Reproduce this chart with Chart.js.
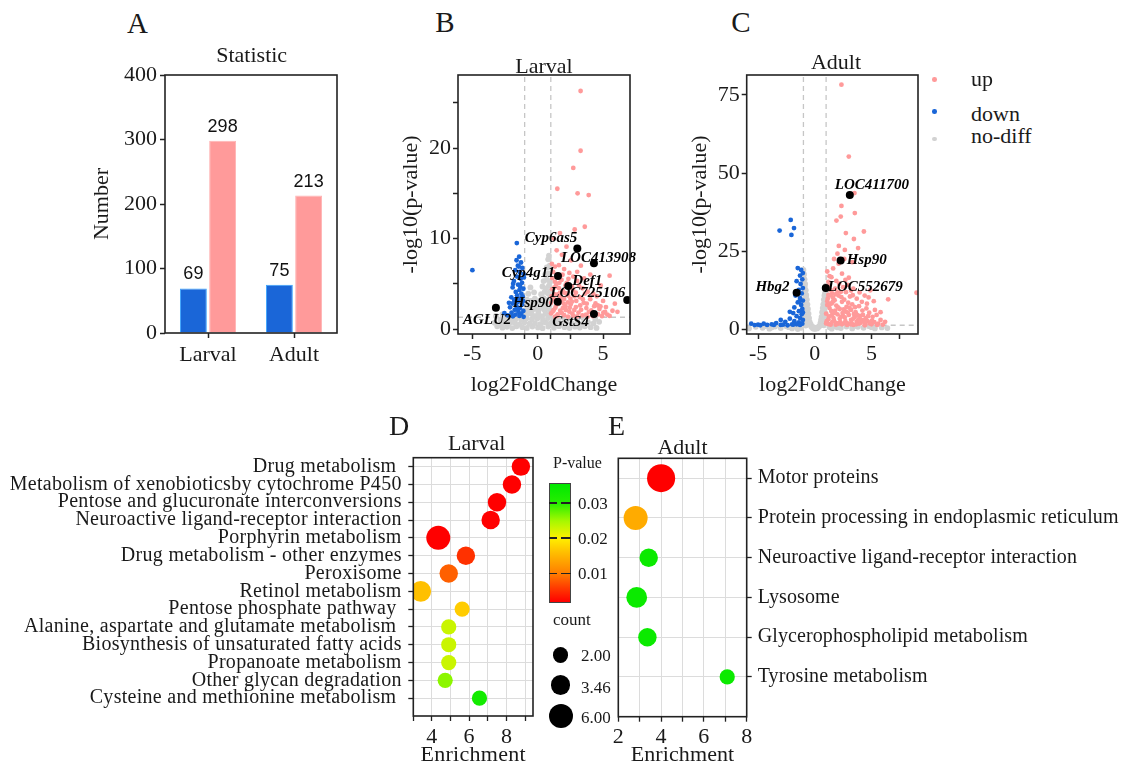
<!DOCTYPE html>
<html><head><meta charset="utf-8">
<script src="https://cdn.jsdelivr.net/npm/chart.js@4.4.1/dist/chart.umd.min.js"></script>
<style>
html,body{margin:0;padding:0;background:#fff;}
#wrap{position:relative;width:1128px;height:775px;overflow:hidden;font-family:'Liberation Serif','Times New Roman',serif;color:#1a1a1a;}
canvas{position:absolute;}
.t{position:absolute;white-space:pre;line-height:1;transform:translate(-50%,-50%);}
.l{position:absolute;white-space:pre;line-height:1;transform:translate(0,-50%);}
</style></head><body><div id="wrap"></div>
<script>
// ---------------- DATA ----------------
// A: statistic
const barCategories = ['Larval', 'Adult'];
const downCounts = [69, 75];
const upCounts = [298, 213];
const barTicks = [0, 100, 200, 300, 400];

// thresholds used in volcano plots
const fcThreshold = 1;
const pThreshold = 1.3;

// B: Larval volcano  [log2FoldChange, -log10(p)]
const larvalNoDiff = [
[-3.1,0.3],[-2.7,0.15],[-2.35,0.25],[-1.95,0.1],[-1.62,0.3],[-1.18,0.2],[-0.83,0.12],[-0.41,0.28],[0.02,0.18],[0.37,0.09],[0.81,0.27],[1.24,0.14],[1.63,0.31],[2.05,0.2],[2.44,0.11],[2.86,0.26],[3.22,0.17],[3.61,0.3],[4.05,0.2],[4.5,0.12],
[-3.3,0.7],[-2.9,0.55],[-2.55,0.72],[-2.18,0.6],[-1.77,0.68],[-1.41,0.52],[-1.02,0.75],[-0.63,0.58],[-0.21,0.66],[0.19,0.54],[0.58,0.73],[0.97,0.61],[1.38,0.7],[1.79,0.56],[2.21,0.77],[2.63,0.6],[3.04,0.69],[3.43,0.53],[3.85,0.74],[4.27,0.62],[4.7,0.8],
[-2.85,1.05],[-2.46,1.18],[-2.04,0.98],[-1.66,1.12],[-1.25,1.02],[-0.85,1.2],[-0.44,1.08],[-0.03,1.16],[0.4,1.0],[0.79,1.22],[1.2,1.06],[1.61,1.19],[2.04,1.03],[2.52,1.15],[3.01,1.09],[3.48,1.21],[4.4,1.1],
[-3.2,1.45],[-2.7,1.62],[-0.93,1.5],[-0.62,1.72],[-0.31,1.44],[0.03,1.66],[0.33,1.41],[0.62,1.7],[0.91,1.52],
[-0.96,2.05],[-0.71,2.3],[-0.46,1.98],[-0.18,2.22],[0.06,2.0],[0.29,2.35],[0.54,2.08],[0.78,2.28],[0.97,2.02],
[-0.88,2.68],[-0.6,2.55],[-0.33,2.82],[-0.08,2.6],[0.17,2.9],[0.42,2.62],[0.66,2.85],[0.89,2.58],
[-0.83,3.25],[-0.52,3.1],[-0.22,3.36],[0.18,3.15],[0.46,3.4],[0.71,3.2],[0.94,3.45],
[-0.72,3.9],[-0.28,4.05],[0.26,3.85],[0.53,4.1],[0.79,3.95],[0.99,4.2],
[-0.56,4.6],[0.36,4.7],[0.62,4.5],[0.86,4.8],
[0.45,5.3],[0.71,5.45],[0.94,5.2],[0.57,6.0],[0.82,6.15],[0.69,6.8],[0.91,7.0],[0.8,7.7],[0.86,8.1]
];
const larvalDown = [
[-5.0,6.5],[-1.6,9.5],
[-1.42,8.0],[-1.62,7.6],[-1.28,7.35],[-1.52,7.0],[-1.18,6.75],[-1.72,6.5],[-1.38,6.3],[-1.08,6.05],[-1.58,5.8],[-1.3,5.55],[-1.82,5.3],[-1.2,5.1],[-1.5,4.9],[-1.92,4.6],[-1.1,4.45],[-1.4,4.3],[-1.68,4.1],[-1.25,3.9],[-1.58,3.72],[-2.02,3.5],[-1.32,3.38],[-1.8,3.2],[-1.12,3.1],[-1.5,3.0],[-1.92,2.82],[-1.2,2.7],[-1.62,2.52],[-2.12,2.4],[-1.36,2.3],[-1.76,2.12],[-1.1,2.0],[-1.48,1.9],[-2.0,1.8],[-1.26,1.7],[-1.7,1.6],[-2.3,1.5],[-1.4,1.45],[-1.9,1.4],[-1.08,1.35],[-2.55,1.75],[-1.06,5.7],[-1.45,6.9],[-1.88,5.0],[-2.2,2.9],[-1.35,4.7],[-1.65,3.3],[-1.15,3.6],[-1.55,2.2]
];
const larvalUp = [
[3.28,26.3],[3.28,19.7],[2.72,17.8],[1.5,15.5],[3.05,15.0],[3.9,14.8],[3.6,11.3],[2.83,11.0],[1.7,10.6],[5.5,5.9],[1.22,10.0],[2.2,9.1],[1.45,8.7],[1.85,8.2],[2.55,7.6],[3.3,7.0],
[1.08,7.2],[1.32,6.9],[1.62,7.05],[2.02,6.62],[1.18,6.3],[1.52,6.02],[2.42,6.2],[2.72,5.8],[1.12,5.62],[1.82,5.42],[2.22,5.1],[3.02,5.32],[1.42,4.92],[2.62,4.7],[3.42,4.5],[1.1,4.4],[1.92,4.2],[2.92,4.02],[3.82,4.12],[1.52,3.82],[2.32,3.7],[3.22,3.52],[4.02,3.3],[1.22,3.32],[1.82,3.12],[2.62,3.02],[3.52,2.9],[4.42,2.82],[1.02,2.9],[1.42,2.62],[2.12,2.52],[2.92,2.42],[3.72,2.32],[4.72,2.2],[1.22,2.1],[1.72,2.02],[2.42,1.92],[3.12,1.82],[3.92,1.9],[5.02,1.8],[1.02,1.72],[1.52,1.62],[2.02,1.52],[2.72,1.46],[3.42,1.5],[4.22,1.42],[5.32,1.6],[1.32,1.36],[2.32,1.36],[3.02,1.4],[3.82,1.36],[4.92,1.42],[1.62,4.52],[2.02,3.32],[2.52,2.72],[3.32,2.12],[1.92,2.32],[2.82,3.62],[3.62,3.92],[1.32,5.22],[2.12,4.82],[4.32,2.52],[4.62,1.62],[5.72,2.02],[4.52,3.62],[3.02,6.32],[4.82,4.82],[5.22,2.42],[4.02,6.02],
[1.15,1.95],[1.35,2.35],[1.6,2.8],[1.75,3.5],[1.25,3.85],[1.5,1.45],[1.85,1.75],[2.15,2.1],[2.3,2.95],[2.05,4.0],[1.65,5.1],[2.5,3.35],[2.8,2.1],[2.65,1.7],[3.25,2.6],[1.05,3.6],[1.9,6.0],[2.35,5.55],[3.7,1.6],[4.1,2.05],[4.6,2.6],[5.0,3.1],[4.3,1.55],[5.5,1.45],[6.1,1.9],[5.9,2.8],
[1.28,4.6],[1.45,3.2],[1.7,4.0],[1.98,2.8],[2.18,3.95],[2.45,2.35],[2.7,4.3],[2.95,3.1],[3.15,4.8],[3.45,3.3],[3.75,2.8],[4.25,3.9],[4.8,2.5],[5.15,1.9],[3.55,5.6]
];
const larvalGenes = ['Cyp6as5', 'LOC413908', 'Cyp4g11', 'Def1', 'LOC725106', 'Hsp90', 'AGLU2', 'GstS4'];
const larvalGenePts = [[3.03,8.9],[4.3,7.26],[1.55,5.86],[2.34,4.75],[6.85,3.2],[1.53,3.0],[-3.2,2.35],[4.3,1.66]];

// C: Adult volcano
const adultNoDiff = [
[-1.0,19.0],[-0.95,17.5],[-0.9,16.0],[-1.0,15.0],[-0.85,14.5],[-0.95,13.0],[-0.8,12.5],[-0.9,11.5],[-0.75,11.0],[-0.85,10.0],[-0.7,9.5],[-0.8,8.6],[-0.95,9.0],[-0.65,8.0],[-0.75,7.2],[-0.9,7.0],[-0.6,6.5],[-0.7,5.8],[-0.85,5.5],[-0.55,5.0],[-0.65,4.4],[-0.95,4.0],[-0.8,3.6],[-0.5,3.6],[-0.6,3.0],[-0.45,2.4],[-0.7,2.2],[-0.9,2.5],[-0.35,1.6],[-0.55,1.5],[-0.8,1.2],[-0.3,0.8],[-0.2,0.4],[-0.98,17.8],[-0.88,13.6],[-0.78,10.6],[-0.92,6.2],[-0.68,3.8],
[1.0,14.0],[0.95,12.8],[0.9,11.6],[0.85,10.8],[1.0,10.0],[0.8,9.5],[0.9,8.7],[0.75,8.0],[0.95,7.5],[0.7,6.8],[0.85,6.2],[0.65,5.5],[0.95,5.0],[0.75,4.6],[0.6,4.0],[0.85,3.5],[0.55,3.0],[0.7,2.6],[0.95,2.2],[0.5,2.0],[0.6,1.5],[0.8,1.3],[0.4,1.0],[0.3,0.6],[0.2,0.3],[0.98,12.0],[0.88,9.2],[0.78,6.0],
[-0.1,0.2],[0.0,0.15],[0.1,0.25],[-0.15,0.6],[0.15,0.5],
[-5.8,0.3],[-5.2,0.8],[-4.6,0.5],[-4.0,0.2],[-3.5,0.9],[-3.0,0.4],[-2.5,1.0],[-2.0,0.3],[-1.6,0.9],[-1.2,0.5],[1.3,0.7],[1.8,1.0],[2.3,0.4],[2.8,0.9],[3.3,0.3],[3.8,0.8],[4.3,0.5],[4.8,1.0],[5.3,0.3],[5.9,0.6],[-1.5,0.1],[1.5,0.2],[2.0,0.6],[-2.3,0.7],[-3.8,0.6],[-4.4,1.0],[3.6,1.1],[5.0,0.7],[6.4,0.4],[-1.9,1.1]
];
const adultDown = [
[-2.12,35.0],[-1.83,32.4],[-3.1,31.6],[-2.06,30.2],[-1.5,19.6],[-1.2,19.0],[-1.05,18.0],[-1.3,17.2],[-1.1,16.0],[-1.6,15.4],[-1.25,14.5],[-1.05,13.2],[-1.4,12.6],[-1.15,11.5],[-1.7,10.8],[-1.3,10.0],[-1.05,9.2],[-1.5,8.6],[-1.2,7.8],[-1.8,7.0],[-1.1,6.5],[-1.4,5.8],[-1.9,5.2],[-1.15,4.8],[-1.6,4.2],[-1.3,3.6],[-2.2,3.4],[-1.05,3.0],[-1.8,2.6],[-1.4,2.2],[-2.6,2.4],[-1.1,1.8],[-2.0,1.6],[-3.0,1.4],[-1.6,1.6],[-2.4,1.3],[-3.4,2.0],[-3.8,1.6],[-4.2,1.4],[-4.5,1.8],[-5.0,1.5],[-5.6,1.8],[-3.6,1.4],[-2.8,1.5],[-1.3,1.4],[-1.9,1.5],[-4.8,1.3],[-5.3,1.35],[-2.2,5.6],[-3.0,3.0],[-1.05,5.4],[-1.35,8.9]
];
const adultUp = [
[2.35,78.3],[3.0,55.3],[3.5,43.6],[2.35,39.5],[2.29,36.1],[3.53,37.2],[1.91,34.8],[4.33,31.3],[2.74,30.8],[3.45,28.9],[2.12,26.7],[2.65,25.4],[3.82,26.0],[1.62,19.5],[1.47,16.7],[6.47,9.6],[8.97,11.7],
[1.1,18.5],[1.3,17.0],[1.9,15.5],[1.2,15.2],[2.4,17.8],[2.1,21.0],[2.6,22.5],[2.0,24.2],[3.3,21.5],[1.1,13.8],[1.4,12.5],[1.8,13.0],[2.3,12.0],[2.9,14.2],[3.4,13.0],[1.2,11.0],[1.6,10.2],[2.1,10.8],[2.6,9.5],[3.1,10.5],[3.7,9.8],[4.4,10.8],[1.1,9.0],[1.5,8.3],[1.9,7.6],[2.4,8.8],[2.8,7.2],[3.3,8.0],[3.9,7.4],[4.6,8.2],[5.2,9.0],[1.3,6.8],[1.8,6.0],[2.2,6.5],[2.7,5.7],[3.2,6.2],[3.6,5.5],[4.2,6.0],[4.8,5.3],[1.0,5.0],[1.5,4.5],[2.0,4.8],[2.5,4.2],[3.0,4.6],[3.5,3.9],[4.0,4.3],[4.5,3.6],[5.1,4.0],[1.2,3.2],[1.7,2.8],[2.2,3.4],[2.7,2.6],[3.2,3.0],[3.7,2.4],[4.3,2.9],[4.9,2.2],[5.8,3.0],[1.0,1.9],[1.4,1.5],[1.9,2.0],[2.4,1.6],[2.9,1.9],[3.4,1.4],[3.9,1.8],[4.4,1.3],[5.0,1.6],[5.5,1.4],[6.0,1.5],[1.1,7.8],[1.6,8.9],[2.0,11.8],[1.3,14.0],[2.5,13.5],[3.0,16.5],[1.7,22.5],[4.9,12.5],[5.3,6.2],
[1.05,2.6],[1.25,4.1],[1.45,5.9],[1.65,3.6],[1.85,1.5],[2.05,7.0],[2.25,2.3],[2.45,5.2],[2.65,3.8],[2.85,1.4],[3.05,6.9],[3.25,2.0],[3.45,4.9],[3.65,1.6],[3.85,3.2],[4.05,2.1],[4.25,4.6],[4.45,1.5],[4.65,2.6],[4.85,1.9],[5.25,2.3],[5.6,1.8],[1.15,9.9],[1.35,8.1],[1.55,11.5],[1.75,9.3],[2.15,14.6],[2.35,10.3],[2.55,6.4],[2.75,11.9],[2.95,8.5],[3.35,10.9],[3.55,7.1],[3.95,11.8],[4.15,8.8],[4.55,6.7],[4.75,10.2],[5.45,4.6],[5.8,5.5],[6.2,2.4],
[1.2,1.7],[1.55,2.4],[1.75,5.3],[2.1,1.8],[2.3,4.0],[2.6,2.0],[2.9,5.4],[3.15,1.6],[3.4,3.4],[3.75,4.5],[4.1,3.0],[4.4,2.3],[4.7,4.2],[5.05,2.8],[1.35,10.9],[1.85,11.2],[2.7,15.8],[3.2,12.4]
];
const adultGenes = ['LOC411700', 'Hsp90', 'Hbg2', 'LOC552679'];
const adultGenePts = [[3.09,43.0],[2.28,22.0],[-1.6,11.7],[0.97,13.2]];

const volcanoXTicks = [-7.5, -5, -2.5, -1, 0, 1, 2.5, 5, 7.5];
const volcanoXLabels = [-5, 0, 5];
const larvalYTicks = [0, 5, 10, 15, 20, 25];
const larvalYLabels = [0, 10, 20];
const adultYTicks = [0, 25, 50, 75];

// D: Larval KEGG enrichment
const larvalPathways = ['Drug metabolism ', 'Metabolism of xenobioticsby cytochrome P450', 'Pentose and glucuronate interconversions', 'Neuroactive ligand-receptor interaction', 'Porphyrin metabolism', 'Drug metabolism - other enzymes', 'Peroxisome', 'Retinol metabolism', 'Pentose phosphate pathway ', 'Alanine, aspartate and glutamate metabolism ', 'Biosynthesis of unsaturated fatty acids', 'Propanoate metabolism', 'Other glycan degradation', 'Cysteine and methionine metabolism '];
const larvalEnrichment = [8.77, 8.29, 7.49, 7.15, 4.34, 5.82, 4.9, 3.4, 5.62, 4.9, 4.9, 4.9, 4.71, 6.55];
const larvalCount = [3, 3, 3, 3, 6, 3, 3, 4, 2, 2, 2, 2, 2, 2];
const larvalPValue = [0.0008, 0.001, 0.001, 0.0012, 0.0015, 0.005, 0.008, 0.016, 0.017, 0.023, 0.023, 0.023, 0.026, 0.033];
const larvalXTicks = [3, 4, 5, 6, 7, 8, 9];
const larvalXLabels = [4, 6, 8];

// E: Adult KEGG enrichment
const adultPathways = ['Motor proteins', 'Protein processing in endoplasmic reticulum', 'Neuroactive ligand-receptor interaction', 'Lysosome', 'Glycerophospholipid metabolism', 'Tyrosine metabolism'];
const adultEnrichment = [4.0, 2.81, 3.42, 2.86, 3.36, 7.09];
const adultCount = [10, 6, 3, 4, 3, 2];
const adultPValue = [0.0008, 0.014, 0.034, 0.034, 0.034, 0.034];
const adultXTicks = [2, 3, 4, 5, 6, 7, 8];
const adultXLabels = [2, 4, 6, 8];

// legends
const pLegendTicks = [0.03, 0.02, 0.01];
const countLegend = [2.00, 3.46, 6.00];

// ---------------- STYLE ----------------
const SERIF = "'Liberation Serif','Times New Roman',serif";
const SANS = "'Liberation Sans',Arial,sans-serif";
const INK = '#1a1a1a';
const BLUE = '#1a66d8', PINK = '#ff9a9a', GREY = '#d2d2d2';
const colorStops = [[0.0016,[255,0,0]],[0.006,[255,64,0]],[0.01,[255,128,0]],[0.016,[255,192,0]],[0.02,[255,240,0]],[0.025,[165,248,0]],[0.03,[40,238,0]],[0.0356,[0,232,0]]];
const P_MIN = 0.0016, P_MAX = 0.0356;
function pColor(p){
  if (p <= colorStops[0][0]) return 'rgb(' + colorStops[0][1].join(',') + ')';
  for (let i = 1; i < colorStops.length; i++) {
    if (p <= colorStops[i][0]) {
      const [p0,c0] = colorStops[i-1], [p1,c1] = colorStops[i];
      const t = (p - p0) / (p1 - p0);
      return 'rgb(' + c0.map((v,k)=>Math.round(v + (c1[k]-v)*t)).join(',') + ')';
    }
  }
  return 'rgb(' + colorStops[colorStops.length-1][1].join(',') + ')';
}
function radiusFor(c){ return 7.6 + 4.4 * Math.log(c/2) / Math.log(3); }

Chart.defaults.font.family = SERIF;
Chart.defaults.color = INK;
Chart.defaults.animation = false;
Chart.defaults.events = [];
Chart.defaults.plugins.legend.display = false;
Chart.defaults.plugins.tooltip.enabled = false;

const wrap = document.getElementById('wrap');
function makeCanvas(left, top, w, h){
  const c = document.createElement('canvas');
  c.width = w; c.height = h;
  c.style.left = left + 'px'; c.style.top = top + 'px';
  c.style.width = w + 'px'; c.style.height = h + 'px';
  wrap.appendChild(c);
  return c;
}
function txt(s, x, y, size, opts){
  opts = opts || {};
  const d = document.createElement('div');
  d.className = opts.left ? 'l' : 't';
  d.textContent = s;
  d.style.left = x + 'px'; d.style.top = y + 'px';
  d.style.fontSize = size + 'px';
  if (opts.font) d.style.fontFamily = opts.font;
  if (opts.style) Object.assign(d.style, opts.style);
  wrap.appendChild(d);
  return d;
}
const boxPlugin = { id:'box', afterDraw(c){
  const a = c.chartArea, x = c.ctx;
  x.save(); x.strokeStyle = '#222'; x.lineWidth = 1.6;
  x.strokeRect(a.left, a.top, a.right - a.left, a.bottom - a.top);
  x.restore();
}};
function spacingPlugin(px){
  return { id:'spacing', beforeLayout(c){ if ('letterSpacing' in c.ctx) c.ctx.letterSpacing = px; },
           beforeDraw(c){ if ('letterSpacing' in c.ctx) c.ctx.letterSpacing = px; } };
}
const tickGrid = { drawOnChartArea:false, tickLength:5, tickColor:'#222', tickWidth:1.5 };

// ---------------- A ----------------
const barLabelPlugin = { id:'barLabels', afterDatasetsDraw(c){
  const ctx = c.ctx; ctx.save();
  ctx.font = '18px ' + SANS; ctx.fillStyle = '#111'; ctx.textAlign = 'center'; ctx.textBaseline = 'middle';
  c.data.datasets.forEach((ds,i)=>{
    c.getDatasetMeta(i).data.forEach((el,j)=>{ ctx.fillText(String(ds.data[j]), el.x, el.y - 14); });
  });
  ctx.restore();
}};
new Chart(makeCanvas(80, 40, 265, 340), {
  type:'bar',
  data:{ labels:barCategories, datasets:[
    { data:downCounts, backgroundColor:BLUE, borderColor:'#3aa6ff', borderWidth:1 },
    { data:upCounts, backgroundColor:PINK, borderColor:'#ffb4b4', borderWidth:1 } ]},
  options:{
    responsive:false,
    layout:{ padding:{ top:35, right:8, left:0, bottom:0 } },
    datasets:{ bar:{ barPercentage:0.92, categoryPercentage:0.68 } },
    scales:{
      x:{ grid:Object.assign({ offset:false }, tickGrid), border:{display:false},
          ticks:{ font:{size:22}, padding:3.8, color:INK }, afterFit:s=>{ s.height = 47; } },
      y:{ min:0, max:400, grid:tickGrid, border:{display:false},
          afterBuildTicks:s=>{ s.ticks = barTicks.map(v=>({value:v})); },
          ticks:{ font:{size:22}, padding:3, color:INK },
          title:{ display:true, text:'Number', font:{size:22}, color:INK, padding:{top:9.3, bottom:0} },
          afterFit:s=>{ s.width = 85; } }
    }
  },
  plugins:[boxPlugin, barLabelPlugin]
});

// ---------------- B & C volcano ----------------
function geneLabelPlugin(names, offs){
  return { id:'geneLabels', afterDatasetsDraw(c){
    const ctx = c.ctx; ctx.save();
    ctx.font = 'bold italic 15px ' + SERIF; ctx.fillStyle = '#000'; ctx.textBaseline = 'middle';
    c.getDatasetMeta(0).data.forEach((el,i)=>{
      const o = offs[i]; ctx.textAlign = o[0];
      ctx.fillText(names[i], el.x + o[1], el.y + o[2]);
    });
    ctx.restore();
  }};
}
function volcano(canvas, cfg){
  const toXY = a => a.map(p=>({x:p[0], y:p[1]}));
  const lineDs = (pts)=>({ type:'line', data:pts, borderColor:'#c6c6c6', borderWidth:1.3, borderDash:[5,4], pointRadius:0, order:10, fill:false });
  return new Chart(canvas, {
    type:'scatter',
    data:{ datasets:[
      { data:toXY(cfg.genes), backgroundColor:'#000', pointRadius:cfg.geneR, borderWidth:0, order:1 },
      { data:toXY(cfg.down), backgroundColor:BLUE, pointRadius:2.4, borderWidth:0, order:2 },
      { data:toXY(cfg.up), backgroundColor:PINK, pointRadius:2.4, borderWidth:0, order:3 },
      { data:toXY(cfg.nodiff), backgroundColor:GREY, pointRadius:2.9, borderWidth:0, order:4 },
      lineDs([{x:-fcThreshold, y:cfg.ymin},{x:-fcThreshold, y:cfg.ymax}]),
      lineDs([{x:fcThreshold, y:cfg.ymin},{x:fcThreshold, y:cfg.ymax}]),
      lineDs([{x:cfg.xmin, y:pThreshold},{x:cfg.xmax, y:pThreshold}])
    ]},
    options:{
      responsive:false,
      layout:{ padding:{ top:cfg.padTop, right:cfg.padRight, left:0, bottom:0 } },
      scales:{
        x:{ type:'linear', min:cfg.xmin, max:cfg.xmax, grid:tickGrid, border:{display:false},
            afterBuildTicks:s=>{ s.ticks = volcanoXTicks.filter(v=>v>=cfg.xmin && v<=cfg.xmax).map(v=>({value:v})); },
            ticks:{ font:{size:22}, padding:1.8, color:INK, autoSkip:false, maxRotation:0,
                    callback:v=> volcanoXLabels.includes(v) ? String(v) : '' },
            title:{ display:true, text:'log2FoldChange', font:{size:22}, color:INK, padding:{top:0, bottom:cfg.xTitlePad} },
            afterFit:s=>{ s.height = cfg.xH; } },
        y:{ type:'linear', min:cfg.ymin, max:cfg.ymax, grid:tickGrid, border:{display:false},
            afterBuildTicks:s=>{ s.ticks = cfg.yTicks.map(v=>({value:v})); },
            ticks:{ font:{size:22}, padding:2, color:INK, autoSkip:false,
                    callback:v=> cfg.yLabels.includes(v) ? String(v) : '' },
            title:{ display:true, text:'-log10(p-value)', font:{size:22}, color:INK, padding:{top:cfg.yTitlePad, bottom:0} },
            afterFit:s=>{ s.width = cfg.yW; } }
      }
    },
    plugins:[boxPlugin, geneLabelPlugin(cfg.names, cfg.offs)]
  });
}
// B: canvas (390,45) 270x355 ; plot 458..630 x 75..334
volcano(makeCanvas(390, 45, 270, 355), {
  genes:larvalGenePts, names:larvalGenes, geneR:4,
  offs:[['right',0,-10],['left',-33,-5],['right',-3,-3],['left',4,-5],['right',-2,-7],['right',-5,1],['left',-33,12],['right',-5,8]],
  down:larvalDown, up:larvalUp, nodiff:larvalNoDiff,
  xmin:-6.1, xmax:7.06, ymin:-0.55, ymax:28.07,
  yTicks:larvalYTicks, yLabels:larvalYLabels,
  padTop:30, padRight:30, xH:66, yW:68, yTitlePad:7.8, xTitlePad:1.8
});
// C: canvas (680,45) 250x355 ; plot 746.7..918 x 75..334
volcano(makeCanvas(680, 45, 250, 355), {
  genes:adultGenePts, names:adultGenes, geneR:4,
  offs:[['left',-15,-10],['left',6,0],['right',-7,-6],['left',2,-1]],
  down:adultDown, up:adultUp, nodiff:adultNoDiff,
  xmin:-6.0, xmax:9.1, ymin:-1.5, ymax:81.4,
  yTicks:adultYTicks, yLabels:adultYTicks,
  padTop:30, padRight:12, xH:66, yW:66.7, yTitlePad:6.8, xTitlePad:1.8
});

// ---------------- D & E bubbles ----------------
function bubbleChart(canvas, cfg){
  return new Chart(canvas, {
    type:'bubble',
    data:{ datasets:[{
      data: cfg.enrich.map((x,i)=>({ x:x, y:i+1, r:radiusFor(cfg.count[i]) })),
      backgroundColor: cfg.pval.map(pColor), borderWidth:0, clip:0
    }]},
    options:{
      responsive:false,
      layout:{ padding:{ top:cfg.padTop, right:cfg.padRight, left:cfg.padLeft, bottom:0 } },
      scales:{
        x:{ type:'linear', min:cfg.xmin, max:cfg.xmax, border:{display:false},
            grid:{ color:'#dcdcdc', lineWidth:1, tickLength:5, tickColor:'#222', tickWidth:1.3 },
            afterBuildTicks:s=>{ s.ticks = cfg.xTicks.map(v=>({value:v})); },
            ticks:{ font:{size:22}, padding:cfg.xTickPad, color:INK, autoSkip:false, maxRotation:0,
                    callback:v=> cfg.xLabels.includes(v) ? String(v) : '' },
            title:{ display:true, text:'Enrichment', font:{size:22}, color:INK, padding:{top:0, bottom:6.8} },
            afterFit:s=>{ s.height = cfg.xH; } },
        y:{ type:'linear', position:cfg.yPos, reverse:true, min:0.5, max:cfg.names.length + 1, border:{display:false},
            grid:{ color:'#dcdcdc', lineWidth:1, tickLength:5, tickColor:'#222', tickWidth:1.3 },
            afterBuildTicks:s=>{ s.ticks = cfg.names.map((_,i)=>({value:i+1})); },
            ticks:{ font:{size:20}, padding:cfg.yTickPad, color:INK, autoSkip:false,
                    callback:v=> cfg.names[v-1] || '' },
            afterFit:s=>{ s.width = cfg.yW; } }
      }
    },
    plugins:[boxPlugin, spacingPlugin(cfg.spacing)]
  });
}
// D: canvas (0,400) 545x375 ; plot 413.3..540 x 457.7..716
bubbleChart(makeCanvas(0, 400, 545, 375), {
  enrich:larvalEnrichment, count:larvalCount, pval:larvalPValue, names:larvalPathways,
  xmin:3, xmax:9.42, xTicks:larvalXTicks, xLabels:larvalXLabels,
  padTop:57.7, padRight:5, padLeft:0, xH:59, yW:413.3, yPos:'left', yTickPad:6.6, xTickPad:3.3, spacing:'0.28px'
});
// E: canvas (600,400) 528x375 ; plot 618.3..746.7 x 458.3..716.7
bubbleChart(makeCanvas(600, 400, 528, 375), {
  enrich:adultEnrichment, count:adultCount, pval:adultPValue, names:adultPathways,
  xmin:2, xmax:8, xTicks:adultXTicks, xLabels:adultXLabels,
  padTop:58.3, padRight:0, padLeft:18.3, xH:58.3, yW:381.3, yPos:'right', yTickPad:6, xTickPad:2, spacing:'0.1px'
});

// ---------------- titles & legends ----------------
txt('A', 137.5, 22.5, 29); txt('B', 445, 22, 29); txt('C', 741, 22, 29);
txt('D', 399, 426, 28); txt('E', 616.5, 426, 28);
txt('Statistic', 251.7, 55, 22);
txt('Larval', 544, 66, 22);
txt('Adult', 836, 62, 22);
txt('Larval', 476.7, 443, 22);
txt('Adult', 682.5, 446.7, 22);

// volcano legend
[['up', PINK, 79.3, 78.5], ['down', BLUE, 111.7, 114.2], ['no-diff', GREY, 139, 135.8]].forEach(([s,col,dy,ty])=>{
  const d = document.createElement('div');
  Object.assign(d.style, { position:'absolute', left:(934.3-2.3)+'px', top:(dy-2.3)+'px', width:'4.6px', height:'4.6px', borderRadius:'50%', background:col });
  wrap.appendChild(d);
  txt(s, 971, ty, 22, { left:true });
});

// p-value colour bar
txt('P-value', 553, 463, 16, { left:true });
(function(){
  const barTop = 483, barH = 120, barL = 549, barW = 22;
  const stops = colorStops.map(([p,c])=>'rgb(' + c.join(',') + ') ' + ((p-P_MIN)/(P_MAX-P_MIN)*100).toFixed(1) + '%');
  const bar = document.createElement('div');
  Object.assign(bar.style, { position:'absolute', left:barL+'px', top:barTop+'px', width:barW+'px', height:barH+'px', boxSizing:'border-box', border:'1px solid #444', background:'linear-gradient(to top,' + stops.join(',') + ')' });
  wrap.appendChild(bar);
  pLegendTicks.forEach(p=>{
    const y = barTop + barH - (p - P_MIN) / (P_MAX - P_MIN) * barH;
    [[barL, 8], [barL + 12, 10]].forEach(([x,w])=>{
      const d = document.createElement('div');
      Object.assign(d.style, { position:'absolute', left:x+'px', top:(y-0.75)+'px', width:w+'px', height:'1.5px', background:'#222' });
      wrap.appendChild(d);
    });
    txt(p.toFixed(2), 578, y, 17, { left:true });
  });
})();
txt('count', 553, 619, 17, { left:true });
[[655, 655], [685, 686.7], [716, 716.7]].forEach(([cy,ty],i)=>{
  const r = radiusFor(countLegend[i]);
  const d = document.createElement('div');
  Object.assign(d.style, { position:'absolute', left:(560.7-r)+'px', top:(cy-r)+'px', width:(2*r)+'px', height:(2*r)+'px', borderRadius:'50%', background:'#000' });
  wrap.appendChild(d);
  txt(countLegend[i].toFixed(2), 581, ty, 17, { left:true });
});
</script></body></html>
